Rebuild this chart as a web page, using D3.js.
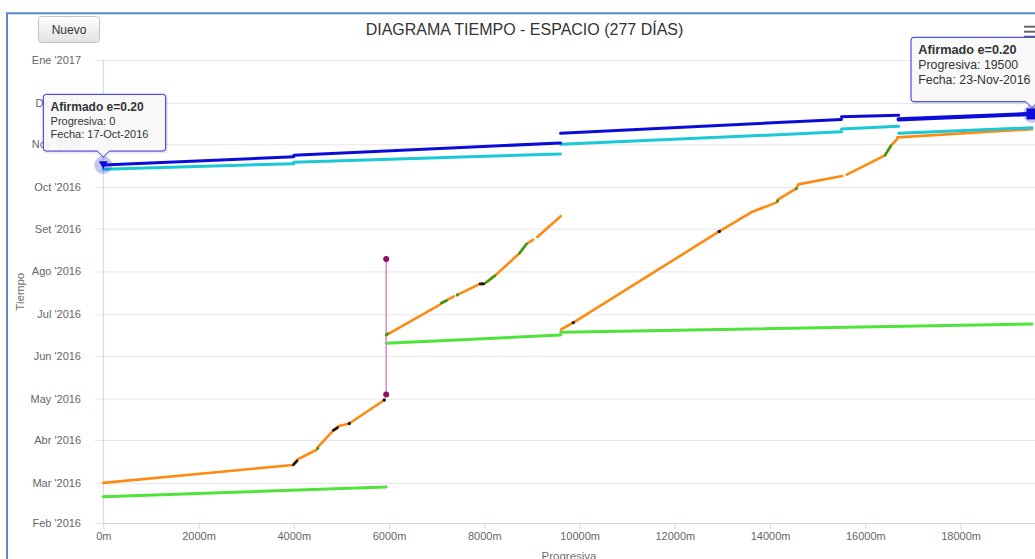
<!DOCTYPE html>
<html>
<head>
<meta charset="utf-8">
<script src="https://cdn.jsdelivr.net/npm/d3@7"></script>
<style>
  html, body { margin: 0; padding: 0; background: #fff; overflow: hidden; }
  svg { display: block; font-family: "Liberation Sans", Arial, sans-serif; }
</style>
</head>
<body>
<svg id="chart" width="1035" height="559"></svg>
<script>
// ---------- data ----------
// Month ticks of the time axis and their labels
const monthTicks = ["2016-02-01","2016-03-01","2016-04-01","2016-05-01","2016-06-01","2016-07-01",
                    "2016-08-01","2016-09-01","2016-10-01","2016-11-01","2016-12-01","2017-01-01"];
const monthLabels = ["Feb '2016","Mar '2016","Abr '2016","May '2016","Jun '2016","Jul '2016",
                     "Ago '2016","Set '2016","Oct '2016","Nov '2016","Dic '2016","Ene '2017"];
// Progresiva ticks (m)
const distTicks = [0, 2000, 4000, 6000, 8000, 10000, 12000, 14000, 16000, 18000];

// Each series is a list of segments; each segment a list of [progresiva (m), fecha]
const afirmadoName = "Afirmado e=0.20";
const afirmado020 = [
  [[0, "2016-10-17"], [4000, "2016-10-23"]],
  [[4000, "2016-10-24"], [9600, "2016-11-02"]],
  [[9600, "2016-11-09"], [15500, "2016-11-19"]],
  [[15500, "2016-11-21"], [16700, "2016-11-22"]],
  [[16700, "2016-11-19"], [19500, "2016-11-23"]]
];
const afirmado015 = [
  [[0, "2016-10-14"], [4000, "2016-10-18"]],
  [[4000, "2016-10-19"], [9600, "2016-10-25"]],
  [[9600, "2016-11-01"], [15500, "2016-11-10"]],
  [[15500, "2016-11-12"], [16700, "2016-11-14"]],
  [[16700, "2016-11-09"], [19500, "2016-11-13"]]
];
const movimientoTierras = [
  [[0, "2016-03-01"], [3980, "2016-03-14"], [4080, "2016-03-18"], [4480, "2016-03-25"], [4510, "2016-03-27"],
   [4830, "2016-04-08"], [4930, "2016-04-11"], [5165, "2016-04-13"], [5900, "2016-04-30"]],
  [[5940, "2016-06-16"], [7070, "2016-07-08"]],
  [[7090, "2016-07-09"], [7364, "2016-07-14"]],
  [[7433, "2016-07-15"], [7910, "2016-07-23"], [7988, "2016-07-23"], [8036, "2016-07-24"], [8225, "2016-07-29"],
   [8735, "2016-08-14"], [8890, "2016-08-21"], [9029, "2016-08-24"]],
  [[9113, "2016-08-26"], [9604, "2016-09-10"]],
  [[9611, "2016-06-20"], [9869, "2016-06-25"], [12934, "2016-08-30"], [13614, "2016-09-13"], [14140, "2016-09-20"],
   [14167, "2016-09-22"], [14545, "2016-09-30"], [14593, "2016-10-03"], [15517, "2016-10-09"]],
  [[15610, "2016-10-10"], [16413, "2016-10-24"], [16538, "2016-10-31"], [16672, "2016-11-05"]],
  [[16672, "2016-11-06"], [19500, "2016-11-12"]]
];
const desbroce = [
  [[0, "2016-02-20"], [5940, "2016-02-27"]],
  [[5940, "2016-06-10"], [9604, "2016-06-16"]],
  [[9604, "2016-06-18"], [19500, "2016-06-24"]]
];
// Short works drawn over the earthworks line
const obrasArte = [
  [[5940, "2016-06-16"], [5975, "2016-06-17"]],
  [[7095, "2016-07-09"], [7211, "2016-07-11"]],
  [[8036, "2016-07-24"], [8225, "2016-07-29"]],
  [[8735, "2016-08-14"], [8890, "2016-08-21"]],
  [[16413, "2016-10-24"], [16538, "2016-10-31"]]
];
const obrasArtePuntos = [[4500, "2016-03-26"], [7433, "2016-07-15"], [14160, "2016-09-21"], [14552, "2016-09-30"]];
const alcantarillas = [
  [[3990, "2016-03-14"], [4070, "2016-03-17"]],
  [[4830, "2016-04-08"], [4920, "2016-04-10"]],
  [[7910, "2016-07-23"], [7988, "2016-07-23"]]
];
const alcantarillasPuntos = [[5165, "2016-04-13"], [5900, "2016-04-30"], [9869, "2016-06-25"], [12934, "2016-08-30"]];
// Stoppage interval at km 5+940
const paralizacion = [[5940, "2016-05-04"], [5940, "2016-08-10"]];

// ---------- setup ----------
const parseDate = d3.timeParse("%Y-%m-%d");
const fmtTip = d3.timeFormat("%d-%b-%Y");
const svg = d3.select("#chart");

const plot = { left: 103.3, right: 1055.8, top: 60, bottom: 523 };
const x = d3.scaleLinear().domain([0, 20000]).range([plot.left, plot.right]);
const y = d3.scaleTime()
  .domain([parseDate(monthTicks[0]), parseDate(monthTicks[monthTicks.length - 1])])
  .range([plot.bottom, plot.top]);

const line = d3.line().x(d => x(d[0])).y(d => y(parseDate(d[1])));

// ---------- frame, button, title ----------
svg.append("path")
  .attr("d", "M7,580 V13.3 H1060")
  .attr("fill", "none").attr("stroke", "#5b8bcc").attr("stroke-width", 2);

const grad = svg.append("defs").append("linearGradient")
  .attr("id", "btnGrad").attr("x1", 0).attr("y1", 0).attr("x2", 0).attr("y2", 1);
grad.append("stop").attr("offset", "0%").attr("stop-color", "#ffffff");
grad.append("stop").attr("offset", "100%").attr("stop-color", "#e2e2e2");

svg.append("rect")
  .attr("x", 38.5).attr("y", 16.5).attr("width", 61).attr("height", 26).attr("rx", 3)
  .attr("fill", "url(#btnGrad)").attr("stroke", "#c4c4c4");
svg.append("text")
  .attr("x", 69).attr("y", 33.5).attr("text-anchor", "middle")
  .attr("font-size", 12).attr("fill", "#333").text("Nuevo");

svg.append("text")
  .attr("x", 524.5).attr("y", 35).attr("text-anchor", "middle")
  .attr("font-size", 16).attr("fill", "#333")
  .text("DIAGRAMA TIEMPO - ESPACIO (277 DÍAS)");

// context menu symbol
[26.7, 31.7, 36.7].forEach(yy => {
  svg.append("line").attr("x1", 1024).attr("x2", 1040).attr("y1", yy).attr("y2", yy)
    .attr("stroke", "#666").attr("stroke-width", 2);
});

// ---------- axes ----------
const gy = svg.append("g").attr("transform", `translate(95,0)`)
  .call(d3.axisLeft(y)
    .tickValues(monthTicks.map(parseDate))
    .tickFormat((d, i) => monthLabels[i])
    .tickSizeInner(-(plot.right - 95))
    .tickSizeOuter(0)
    .tickPadding(14));
gy.select(".domain").remove();
gy.selectAll(".tick line").attr("stroke", "#e6e6e6");
gy.selectAll(".tick text")
  .attr("font-family", "Liberation Sans, Arial, sans-serif")
  .attr("font-size", 11).attr("fill", "#666");

svg.append("line")
  .attr("x1", plot.left).attr("x2", plot.left).attr("y1", plot.top).attr("y2", plot.bottom)
  .attr("stroke", "#ccd6eb");

const gx = svg.append("g").attr("transform", `translate(0,${plot.bottom})`)
  .call(d3.axisBottom(x)
    .tickValues(distTicks)
    .tickFormat(d => d + "m")
    .tickSizeInner(6)
    .tickSizeOuter(0)
    .tickPadding(3.5));
gx.select(".domain").attr("stroke", "#ccd6eb");
gx.selectAll(".tick line").attr("stroke", "#ccd6eb");
gx.selectAll(".tick text")
  .attr("font-family", "Liberation Sans, Arial, sans-serif")
  .attr("font-size", 11).attr("fill", "#666");

svg.append("text")
  .attr("transform", "translate(20,291.7) rotate(-90)")
  .attr("text-anchor", "middle").attr("dy", "0.35em")
  .attr("font-size", 11.5).attr("fill", "#707070").text("Tiempo");
svg.append("text")
  .attr("x", 569).attr("y", 560).attr("text-anchor", "middle")
  .attr("font-size", 11.5).attr("fill", "#707070").text("Progresiva");

// ---------- series ----------
const series = svg.append("g").attr("fill", "none")
  .attr("stroke-linecap", "round").attr("stroke-linejoin", "round");

function drawSegments(data, color, width) {
  series.append("g").selectAll("path").data(data).join("path")
    .attr("d", line).attr("stroke", color).attr("stroke-width", width);
}
function drawPoints(data, color, r) {
  series.append("g").selectAll("circle").data(data).join("circle")
    .attr("cx", d => x(d[0])).attr("cy", d => y(parseDate(d[1])))
    .attr("r", r).attr("fill", color);
}

drawSegments(desbroce, "#4fe33b", 3);

// stoppage bar
series.append("path").attr("d", line(paralizacion))
  .attr("stroke", "#d08cc4").attr("stroke-width", 1.5);

drawSegments(movimientoTierras, "#ff8a12", 2.6);
drawSegments(obrasArte, "#3f9c17", 2.6);
drawPoints(obrasArtePuntos, "#3f9c17", 1.6);
drawSegments(alcantarillas, "#151515", 2.6);
drawPoints(alcantarillasPuntos, "#151515", 1.7);

drawSegments(afirmado015, "#1ac8d6", 3);
drawSegments(afirmado020.slice(0, -1), "#0c0cd8", 3);
drawSegments(afirmado020.slice(-1), "#0c0cd8", 4.2);

series.selectAll("circle.par").data(paralizacion).join("circle").attr("class", "par")
  .attr("cx", d => x(d[0])).attr("cy", d => y(parseDate(d[1])))
  .attr("r", 3).attr("fill", "#920f62");

// ---------- hovered points and tooltips ----------
const first = afirmado020[0][0];
const lastSeg = afirmado020[afirmado020.length - 1];
const last = lastSeg[lastSeg.length - 1];

const p0 = { x: x(first[0]), y: y(parseDate(first[1])) };
const p1 = { x: x(last[0]), y: y(parseDate(last[1])) };

const marks = svg.append("g");
[p0, p1].forEach(p => {
  marks.append("circle").attr("cx", p.x).attr("cy", p.y).attr("r", 9)
    .attr("fill", "rgba(30,30,220,0.25)");
});
marks.append("path")
  .attr("d", `M${p0.x - 4.5},${p0.y - 3.8} L${p0.x + 4.5},${p0.y - 3.8} L${p0.x},${p0.y + 4} Z`)
  .attr("fill", "#0c0cd8");
marks.append("rect")
  .attr("x", p1.x - 5.5).attr("y", p1.y - 5.5).attr("width", 11).attr("height", 11)
  .attr("fill", "#0c0cd8");

function callout(box, px, tip, lines, fsBold, fs, lh) {
  const g = svg.append("g");
  const { left, top, width, height } = box;
  const right = left + width, bottom = top + height, r = 3;
  const d = `M${left + r},${top} H${right - r} Q${right},${top} ${right},${top + r} V${bottom - r}
    Q${right},${bottom} ${right - r},${bottom} H${px + 6} L${px},${bottom + tip} L${px - 6},${bottom}
    H${left + r} Q${left},${bottom} ${left},${bottom - r} V${top + r} Q${left},${top} ${left + r},${top} Z`;
  g.append("path").attr("d", d).attr("transform", "translate(1,1)")
    .attr("fill", "none").attr("stroke", "rgba(0,0,0,0.08)").attr("stroke-width", 3);
  g.append("path").attr("d", d)
    .attr("fill", "rgba(249,249,249,0.92)").attr("stroke", "#2b2be0").attr("stroke-width", 1);
  lines.forEach((t, i) => {
    g.append("text")
      .attr("x", left + 7.3).attr("y", top + 17 + i * lh)
      .attr("font-size", i === 0 ? fsBold : fs)
      .attr("font-weight", i === 0 ? "bold" : "normal")
      .attr("fill", "#333").text(t);
  });
}

callout({ left: 43.3, top: p0.y - 70.7, width: 122.4, height: 56.7 }, p0.x, 6,
  [afirmadoName, "Progresiva: " + first[0], "Fecha: " + fmtTip(parseDate(first[1]))], 12, 11, 13.2);

callout({ left: p1.x - 121, top: p1.y - 76.6, width: 150, height: 64.4 }, p1.x, 6,
  [afirmadoName, "Progresiva: " + last[0], "Fecha: " + fmtTip(parseDate(last[1]))], 12.7, 12.3, 15);
</script>
</body>
</html>
